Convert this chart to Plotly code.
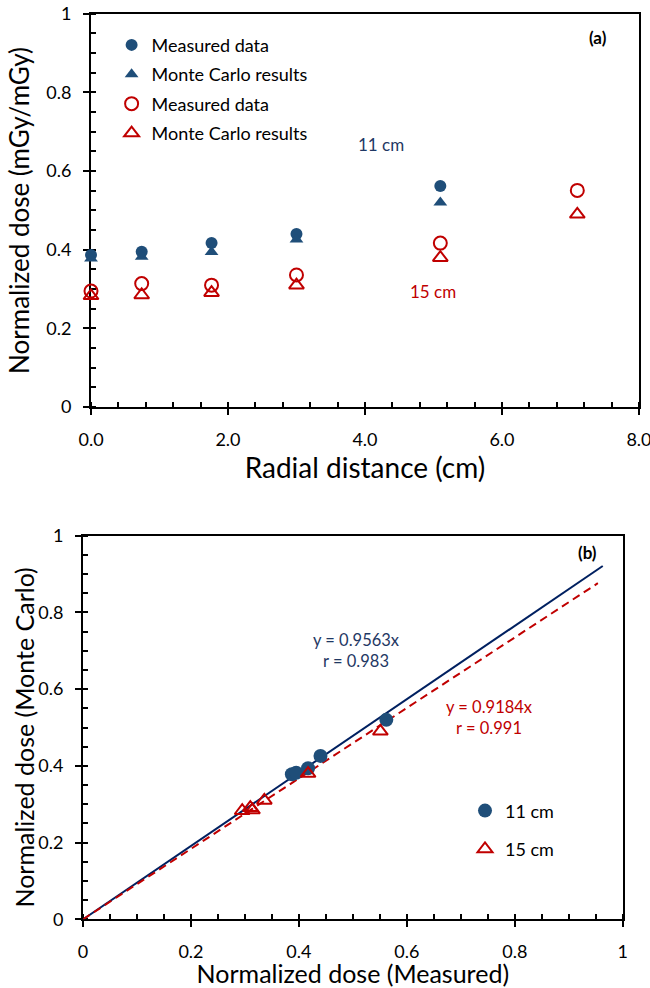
import plotly.graph_objects as go

# panel (a): dose vs radial distance
radial_11 = [0.0, 0.74, 1.76, 3.0, 5.1]
meas_11 = [0.387, 0.395, 0.417, 0.440, 0.562]
mc_11 = [0.378, 0.382, 0.394, 0.426, 0.520]

radial_15 = [0.0, 0.74, 1.76, 3.0, 5.1, 7.1]
meas_15 = [0.295, 0.314, 0.310, 0.336, 0.417, 0.551]
mc_15 = [0.283, 0.285, 0.291, 0.310, 0.380, 0.490]

# panel (b): fitted lines through origin
slope_11 = 0.9563
slope_15 = 0.9184
r_11 = 0.983
r_15 = 0.991
fit_x_11 = [0, 0.963]
fit_x_15 = [0, 0.954]

BLUE = "#1f4e79"
NAVY = "#002060"
RED = "#c00000"
FONT = "Lato"

fig = go.Figure()

# --- panel (a)
fig.add_trace(go.Scatter(x=radial_11, y=meas_11, mode="markers", name="Measured data",
                         marker=dict(symbol="circle", size=12, color=BLUE),
                         legend="legend", legendgroup="a1", cliponaxis=False))
fig.add_trace(go.Scatter(x=radial_11, y=mc_11, mode="markers", name="Monte Carlo results",
                         marker=dict(symbol="triangle-up", size=12, color=BLUE),
                         legend="legend", legendgroup="a2", cliponaxis=False))
fig.add_trace(go.Scatter(x=radial_15, y=meas_15, mode="markers", name="Measured data",
                         marker=dict(symbol="circle-open", size=13, color=RED, line=dict(width=2)),
                         legend="legend", legendgroup="a3", cliponaxis=False))
fig.add_trace(go.Scatter(x=radial_15, y=mc_15, mode="markers", name="Monte Carlo results",
                         marker=dict(symbol="triangle-up-open", size=13, color=RED, line=dict(width=2)),
                         legend="legend", legendgroup="a4", cliponaxis=False))

# --- panel (b)
fig.add_trace(go.Scatter(x=fit_x_11, y=[slope_11 * v for v in fit_x_11], mode="lines",
                         line=dict(color=NAVY, width=2), showlegend=False,
                         xaxis="x2", yaxis="y2"))
fig.add_trace(go.Scatter(x=fit_x_15, y=[slope_15 * v for v in fit_x_15], mode="lines",
                         line=dict(color=RED, width=2, dash="8px,5px"), showlegend=False,
                         xaxis="x2", yaxis="y2"))
fig.add_trace(go.Scatter(x=meas_11, y=mc_11, mode="markers", name="11 cm",
                         marker=dict(symbol="circle", size=14, color=BLUE),
                         legend="legend2", legendgroup="b1", xaxis="x2", yaxis="y2"))
fig.add_trace(go.Scatter(x=meas_15, y=mc_15, mode="markers", name="15 cm",
                         marker=dict(symbol="triangle-up-open", size=13, color=RED, line=dict(width=2)),
                         legend="legend2", legendgroup="b2", xaxis="x2", yaxis="y2"))

minor_common = dict(ticks="inside", ticklen=5, tickwidth=2, tickcolor="black")
axis_common = dict(showline=True, linecolor="black", linewidth=2, mirror=True,
                   ticks="outside", ticklen=6, tickwidth=2, tickcolor="black",
                   showgrid=False, zeroline=False, layer="below traces", automargin=False,
                   ticklabeloverflow="allow",
                   tickfont=dict(family=FONT, size=18, color="black"))

fig.update_layout(
    width=650, height=988,
    margin=dict(l=0, r=0, t=0, b=0, autoexpand=False),
    paper_bgcolor="white", plot_bgcolor="rgba(0,0,0,0)",
    font=dict(family=FONT, color="black"),
    xaxis=dict(axis_common, domain=[0.140, 0.983], anchor="y", range=[0, 8], dtick=2,
               tickformat=".1f", ticklabelstandoff=9, minor=dict(minor_common, dtick=0.4),
               title=dict(text="Radial distance (cm)", font=dict(size=28), standoff=6)),
    yaxis=dict(axis_common, domain=[0.588, 0.986], anchor="x", range=[0, 1], dtick=0.2,
               ticklabelstandoff=8, minor=dict(minor_common, dtick=0.05),
               title=dict(text="Normalized dose (mGy/mGy)", font=dict(size=26), standoff=9)),
    xaxis2=dict(axis_common, domain=[0.1277, 0.958], anchor="y2", range=[0, 1], dtick=0.2,
                ticklabelstandoff=9, minor=dict(minor_common, dtick=0.05),
                title=dict(text="Normalized dose (Measured)", font=dict(size=25), standoff=8)),
    yaxis2=dict(axis_common, domain=[0.0695, 0.4578], anchor="x2", range=[0, 1], dtick=0.2,
                ticklabelstandoff=8, minor=dict(minor_common, dtick=0.05)),
    legend=dict(x=0.1717, y=0.973, xanchor="left", yanchor="top", bgcolor="rgba(0,0,0,0)",
                font=dict(family=FONT, size=18, color="black"), itemwidth=30, tracegroupgap=3),
    legend2=dict(x=0.7154, y=0.198, xanchor="left", yanchor="top", bgcolor="rgba(0,0,0,0)",
                 font=dict(family=FONT, size=18, color="black"), itemwidth=30, tracegroupgap=12),
    annotations=[
        dict(x=0.0369, y=0.2535, xref="paper", yref="paper", text="Normalized dose (Monte Carlo)",
             textangle=-90, showarrow=False, xanchor="center", yanchor="middle",
             font=dict(family=FONT, size=25, color="black")),
        dict(x=4.24, y=0.667, xref="x", yref="y", text="11 cm", showarrow=False,
             font=dict(family=FONT, size=17, color="#1f3864")),
        dict(x=5.0, y=0.293, xref="x", yref="y", text="15 cm", showarrow=False,
             font=dict(family=FONT, size=17, color=RED)),
        dict(x=7.4, y=0.94, xref="x", yref="y", text="<b>(a)</b>", showarrow=False,
             font=dict(family=FONT, size=17, color="black")),
        dict(x=0.507, y=0.702, xref="x2", yref="y2",
             text=f"y = {slope_11}x<br>r = {r_11}", showarrow=False,
             font=dict(family=FONT, size=16.5, color="#1f3864")),
        dict(x=0.754, y=0.525, xref="x2", yref="y2",
             text=f"y = {slope_15}x<br>r = {r_15}", showarrow=False,
             font=dict(family=FONT, size=16.5, color=RED)),
        dict(x=0.934, y=0.957, xref="x2", yref="y2", text="<b>(b)</b>", showarrow=False,
             font=dict(family=FONT, size=17, color="black")),
    ],
)

# drop the page's default 8px body margin so the 650x988 figure fills the window
fig.write_html("out.html", config={"displayModeBar": False},
               post_script="document.body.style.margin = '0';")
